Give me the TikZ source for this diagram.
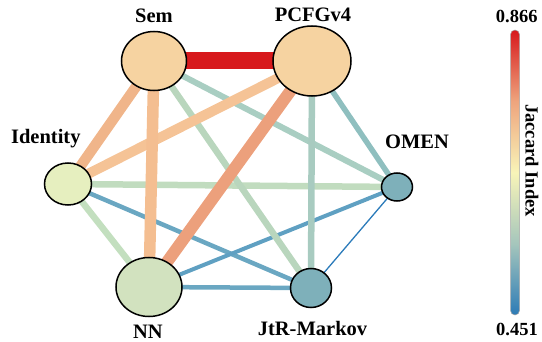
\documentclass[tikz,border=0pt]{standalone}
\usepackage{fontspec}
\setmainfont{Liberation Serif}
\usetikzlibrary{shapes.geometric}
\definecolor{cRed}{HTML}{D7191C}
\definecolor{cSalmon}{HTML}{ECA07C}
\definecolor{cOrA}{HTML}{F0B58A}
\definecolor{cOrB}{HTML}{F4BE91}
\definecolor{cOrC}{HTML}{F5C396}
\definecolor{cGrA}{HTML}{B9D6BD}
\definecolor{cGrB}{HTML}{C1DCBF}
\definecolor{cGrC}{HTML}{C3DFBF}
\definecolor{cTeA}{HTML}{A9CEC2}
\definecolor{cTeB}{HTML}{A8CBC0}
\definecolor{cTeC}{HTML}{8FBFBF}
\definecolor{cBlA}{HTML}{6AA7C2}
\definecolor{cBlB}{HTML}{5FA0C2}
\definecolor{cBlC}{HTML}{2B7BBA}
\definecolor{fPeach}{HTML}{F6D3A1}
\definecolor{fIdent}{HTML}{E6EFBF}
\definecolor{fNN}{HTML}{D2E2BF}
\definecolor{fBlue}{HTML}{7EB0BA}
\definecolor{sBlue}{HTML}{2C7BB6}
\definecolor{sTeal}{HTML}{A5C6BC}
\definecolor{sYel}{HTML}{F8F4B8}
\definecolor{sOr}{HTML}{EEA47D}
\pgfdeclarelayer{bg}
\pgfsetlayers{bg,main}
\pgfdeclareverticalshading{jacc}{100bp}{color(0bp)=(sBlue); color(25bp)=(sBlue); color(37.5bp)=(sTeal); color(50bp)=(sYel); color(62.5bp)=(sOr); color(75bp)=(cRed); color(100bp)=(cRed)}
\tikzset{
  vert/.style={ellipse, draw=black, line width=1.5pt, inner sep=0pt},
  lbl/.style={anchor=base, inner sep=0pt, font=\fontsize{20.5}{24}\selectfont\bfseries},
  cblbl/.style={anchor=base, inner sep=0pt, font=\fontsize{18.5}{22}\selectfont\bfseries},
  edge/.style={line cap=butt}
}
\begin{document}
\begin{tikzpicture}[x=1pt,y=1pt]
\useasboundingbox (0,0) rectangle (542,341);
% nodes
\node[vert, fill=fPeach, minimum width=65pt, minimum height=59pt] (sem) at (154,280) {};
\node[vert, fill=fPeach, minimum width=78pt, minimum height=70pt] (pcfg) at (312,280) {};
\node[vert, fill=fIdent, minimum width=47pt, minimum height=42pt] (ident) at (68,157) {};
\node[vert, fill=fBlue, minimum width=31pt, minimum height=28pt] (omen) at (397,154) {};
\node[vert, fill=fNN, minimum width=66pt, minimum height=59pt] (nn) at (149,54) {};
\node[vert, fill=fBlue, minimum width=41pt, minimum height=39pt] (jtr) at (311,53) {};
% labels
\node[lbl] (semL) at (154,318.3) {Sem};
\node[lbl] (pcfgL) at (313,319.3) {PCFGv4};
\node[lbl] (identL) at (45.8,197.7) {Identity};
\node[lbl] (omenL) at (417,192.7) {OMEN};
\node[lbl] (nnL) at (148,3) {NN};
\node[lbl] (jtrL) at (312.5,6) {JtR-Markov};
% edges
\begin{pgfonlayer}{bg}
\draw[edge, line width=1.3pt, cBlC] (omen.center) -- (jtr.center);
\draw[edge, line width=4.5pt, cBlA] (nn.center) -- (jtr.center);
\draw[edge, line width=4.5pt, cBlA] (ident.center) -- (jtr.center);
\draw[edge, line width=4pt, cBlB] (nn.center) -- (omen.center);
\draw[edge, line width=5.5pt, cTeC] (pcfg.center) -- (omen.center);
\draw[edge, line width=6pt, cTeA] (sem.center) -- (omen.center);
\draw[edge, line width=6.5pt, cGrC] (ident.center) -- (nn.center);
\draw[edge, line width=6.5pt, cGrB] (ident.center) -- (omen.center);
\draw[edge, line width=6.5pt, cGrA] (sem.center) -- (jtr.center);
\draw[edge, line width=6.5pt, cTeB] (pcfg.center) -- (jtr.center);
\draw[edge, line width=10pt, cOrC] (pcfg.center) -- (ident.center);
\draw[edge, line width=11.5pt, cOrB] (sem.center) -- (nn.center);
\draw[edge, line width=10.5pt, cOrA] (sem.center) -- (ident.center);
\draw[edge, line width=12pt, cSalmon] (pcfg.center) -- (nn.center);
\draw[edge, line width=17pt, cRed] (sem.center) -- (pcfg.center);
\end{pgfonlayer}
% colorbar
\node[draw=black!35, line width=0.5pt, rounded corners=4.5pt, shading=jacc, inner sep=0pt, minimum width=9pt, minimum height=285pt] (bar) at (515,168.5) {};
\node[cblbl] (maxL) at (516.7,318.3) {0.866};
\node[cblbl] (minL) at (517,6) {0.451};
\node[cblbl, rotate=-90] (barL) at (525.5,180.5) {Jaccard Index};
\end{tikzpicture}
\end{document}
